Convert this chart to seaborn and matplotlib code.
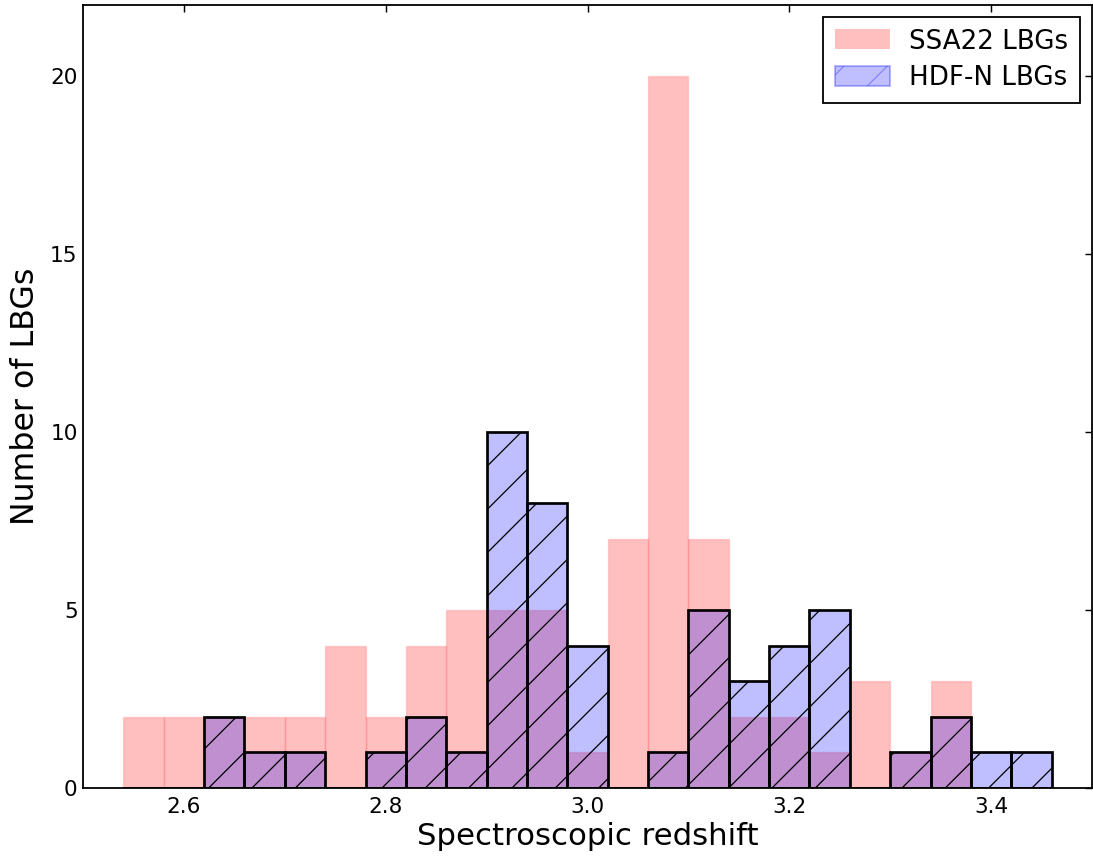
import numpy as np
import pandas as pd
import matplotlib
matplotlib.use("Agg")
import matplotlib.pyplot as plt
from matplotlib.patches import Patch
import seaborn as sns

# bin edges (redshift), 0.04 wide
BIN_EDGES = [2.54, 2.58, 2.62, 2.66, 2.70, 2.74, 2.78, 2.82, 2.86, 2.90, 2.94, 2.98,
             3.02, 3.06, 3.10, 3.14, 3.18, 3.22, 3.26, 3.30, 3.34, 3.38, 3.42, 3.46]

# counts per bin
ssa22_counts = [2, 2, 2, 2, 2, 4, 2, 4, 5, 5, 5, 1, 7, 20, 7, 2, 2, 1, 3, 1, 3, 0, 0]
hdfn_counts = [0, 0, 2, 1, 1, 0, 1, 2, 1, 10, 8, 4, 0, 1, 5, 3, 4, 5, 0, 1, 2, 1, 1]

x_ticks = [2.6, 2.8, 3.0, 3.2, 3.4]
y_ticks = [0, 5, 10, 15, 20]

DPI = 130

sns.set_style("white")
plt.rcParams.update({
    "font.family": ["DejaVu Sans"],
    "text.color": "black",
    "axes.labelcolor": "black",
    "xtick.color": "black",
    "ytick.color": "black",
    "xtick.direction": "in",
    "ytick.direction": "in",
    "xtick.top": True,
    "ytick.right": True,
    "xtick.major.size": 4,
    "ytick.major.size": 4,
    "xtick.major.width": 0.8,
    "ytick.major.width": 0.8,
    "axes.edgecolor": "black",
    "axes.linewidth": 1.0,
    "hatch.linewidth": 0.7,
    "hatch.color": "black",
})

edges = np.array(BIN_EDGES)
centers = (edges[:-1] + edges[1:]) / 2
df = pd.DataFrame({"z": centers, "ssa22": ssa22_counts, "hdfn": hdfn_counts})

fig = plt.figure(figsize=(1093 / DPI, 857 / DPI), dpi=DPI)
ax = fig.add_axes([83 / 1093, 1 - 788 / 857, (1092 - 83) / 1093, (788 - 5) / 857])

sns.histplot(data=df, x="z", weights="ssa22", bins=list(BIN_EDGES), ax=ax,
             facecolor=(1, 0, 0, 0.25), edgecolor=(1, 0, 0, 0.12), linewidth=0.8)
sns.histplot(data=df, x="z", weights="hdfn", bins=list(BIN_EDGES), ax=ax,
             facecolor=(0, 0, 1, 0.25), edgecolor="black", linewidth=1.5, hatch="/")

ax.set_xlim(2.5, 3.5)
ax.set_ylim(0, 22)
ax.set_xticks(x_ticks)
ax.set_xticklabels([f"{t:.1f}" for t in x_ticks])
ax.set_yticks(y_ticks)
ax.tick_params(labelsize=12)
ax.tick_params(axis="x", pad=5)
ax.tick_params(axis="y", pad=3)
ax.set_xlabel("Spectroscopic redshift", fontsize=17, labelpad=3)
ax.set_ylabel("Number of LBGs", fontsize=17.5, labelpad=5)
for s in ax.spines.values():
    s.set_visible(True)

handles = [
    Patch(facecolor=(1, 0, 0, 0.25), edgecolor=(1, 0, 0, 0.0), label="SSA22 LBGs"),
    Patch(facecolor=(0, 0, 1, 0.25), edgecolor=(0, 0, 1, 0.3), hatch="/", label="HDF-N LBGs"),
]
leg = ax.legend(handles=handles, loc="upper right", fontsize=14.5, frameon=True,
                fancybox=False, borderaxespad=0.45, handlelength=2.1, handleheight=0.8,
                handletextpad=0.75, labelspacing=0.4, borderpad=0.45)
leg.get_frame().set_edgecolor("black")
leg.get_frame().set_linewidth(1.0)
leg.get_frame().set_alpha(1.0)

fig.savefig("out.png", dpi=DPI)
